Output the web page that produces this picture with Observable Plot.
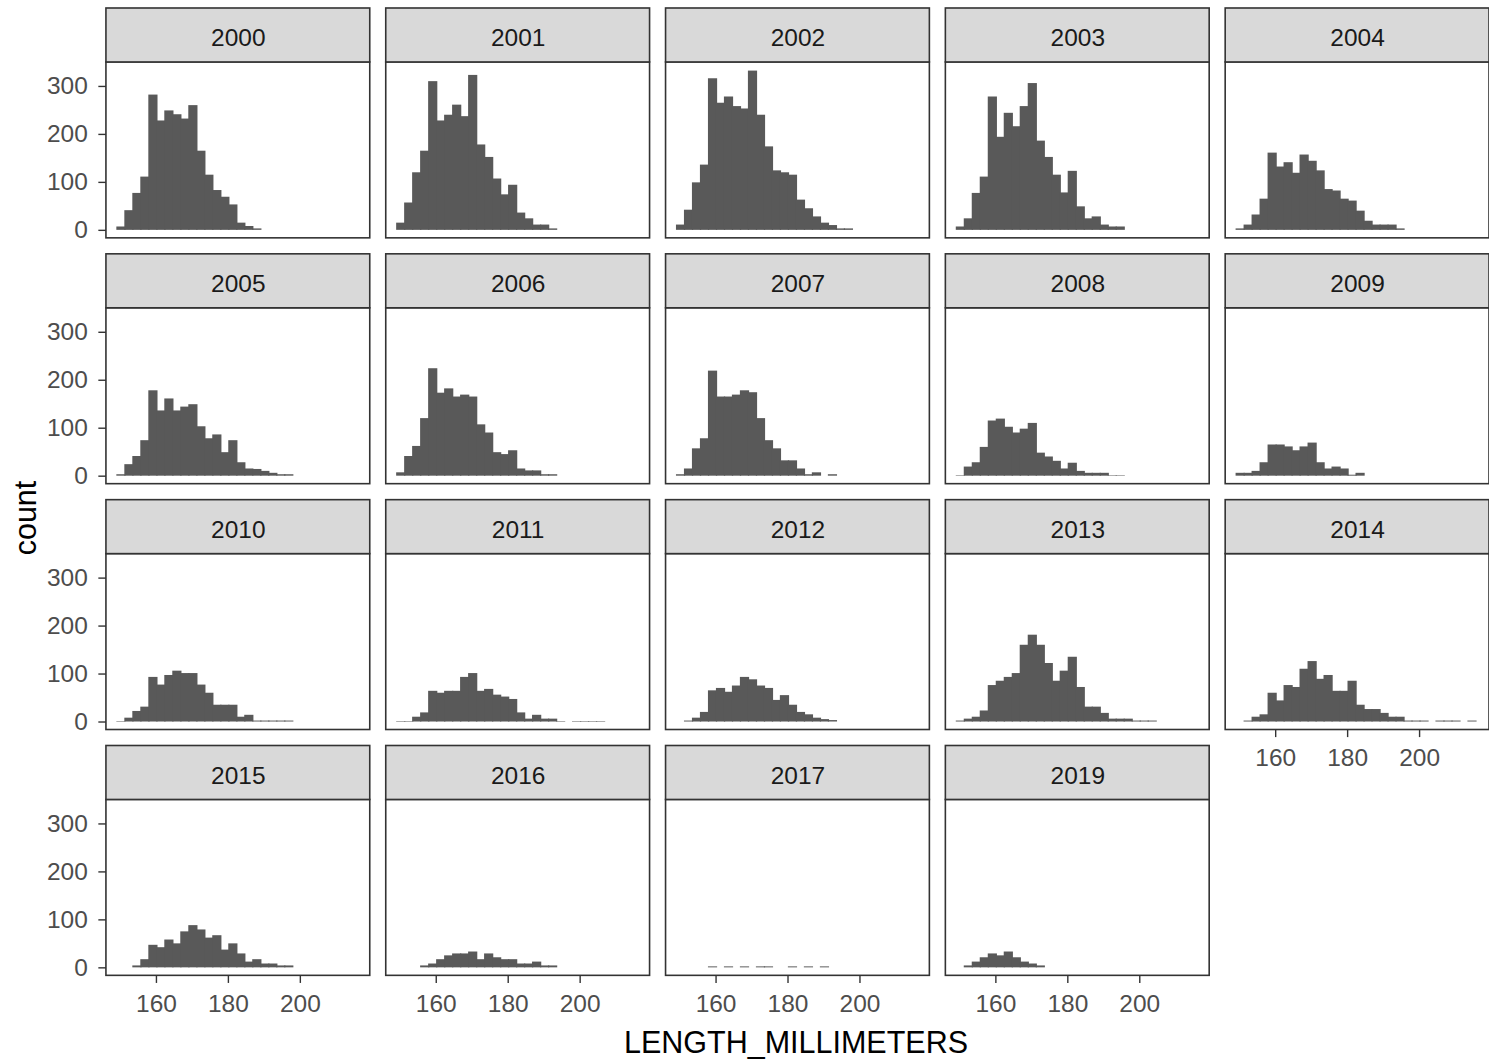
<!DOCTYPE html>
<html><head><meta charset="utf-8">
<script src="https://cdn.jsdelivr.net/npm/d3@7"></script>
<script src="https://cdn.jsdelivr.net/npm/@observablehq/plot@0.6"></script>
<style>
html,body{margin:0;padding:0;overflow:hidden;background:#fff;}
#wrap{position:relative;width:1489px;height:1062px;overflow:hidden;}
#wrap svg{position:absolute;left:0;top:0;}
.ttl{position:absolute;font-family:"Liberation Sans",Arial,sans-serif;color:#000;font-size:30.5px;white-space:nowrap;line-height:1;}
</style></head><body>
<div id="wrap"></div>
<script>
// ---- data ----
const years = [2000,2001,2002,2003,2004,2005,2006,2007,2008,2009,2010,2011,2012,2013,2014,2015,2016,2017,2019];
const binEdges = [149.16,151.38,153.60,155.82,158.05,160.27,162.49,164.71,166.93,169.16,171.38,173.60,175.82,178.04,180.27,182.49,184.71,186.93,189.16,191.38,193.60,195.82,198.04,200.27,202.49,204.71,206.93,209.16,211.38,213.60,215.82];
const xTicks = [160,180,200];
const yTicks = [0,100,200,300];

const c2000 = [7,41,77,111,282,228,249,241,232,260,165,115,83,69,53,15,8,3];
const c2001 = [15,57,120,165,310,228,240,261,237,323,178,152,107,74,94,36,24,11,11,3];
const c2002 = [11,42,99,136,316,265,278,258,253,332,240,174,124,120,115,63,45,28,15,10,3,3];
const c2003 = [7,24,77,111,278,194,244,216,258,306,186,152,115,78,123,49,24,28,11,7,7];
const c2004 = [3,11,32,65,161,132,141,119,157,144,124,85,82,65,61,40,19,11,11,11,3];
const c2005 = [3,24,41,74,178,136,161,136,144,149,103,78,86,49,74,28,15,14,10,6,3,3];
const c2006 = [7,41,62,120,224,173,182,165,169,165,107,90,49,45,53,15,11,11,3,3];
const c2007 = [3,15,57,78,219,165,165,169,178,174,120,74,57,32,32,15,3,7,0,3];
const c2008 = [1,19,28,60,115,119,102,90,98,110,48,40,31,15,27,10,6,6,6,1,1];
const c2009 = [6,6,10,28,65,65,61,53,61,69,28,15,19,15,2,6];
const c2010 = [1,8,22,31,93,77,97,106,101,101,77,60,35,35,35,10,14,2,2,2,2,2];
const c2011 = [1,1,10,19,64,60,64,64,93,101,64,68,56,52,47,19,6,14,6,6,1,0,1,1,1,1];
const c2012 = [0,2,8,20,65,70,62,75,93,88,75,70,45,55,35,20,15,8,5,3];
const c2013 = [2,6,10,23,76,85,93,101,160,181,160,122,85,106,135,72,31,31,18,6,6,6,2,2,2];
const c2014 = [0,2,10,15,60,44,76,72,110,126,89,97,64,64,85,35,26,26,18,10,10,2,2,2,0,2,2,2,0,2];
const c2015 = [0,0,4,17,47,42,58,50,75,88,79,62,67,37,50,29,12,17,8,8,4,4];
const c2016 = [0,0,0,4,8,17,25,29,29,33,17,29,21,17,17,8,8,12,4,4];
const c2017 = [0,0,0,0,2,0,2,0,2,0,2,2,0,0,2,0,2,0,2];
const c2019 = [0,4,12,21,29,25,33,21,12,8,4];
const countsByYear = [c2000,c2001,c2002,c2003,c2004,c2005,c2006,c2007,c2008,c2009,c2010,c2011,c2012,c2013,c2014,c2015,c2016,c2017,c2019];

// ---- layout constants ----
const NCOL = 5;
const xDom = [146.1, 219.433];
const yPanelTop = 350, yBottom = -16.667, yStripTop = 462.5;
const FONT = "'Liberation Sans', Arial, sans-serif";

const bars = [];
years.forEach((yr, i) => {
  countsByYear[i].forEach((c, j) => {
    if (c > 0) bars.push({year: yr, col: i % NCOL, row: Math.floor(i / NCOL), x1: binEdges[j], x2: binEdges[j + 1], count: c});
  });
});
const panels = years.map((yr, i) => ({year: yr, col: i % NCOL, row: Math.floor(i / NCOL)}));

const chart = Plot.plot({
  width: 1490, height: 1062,
  marginLeft: 106, marginRight: 0, marginTop: 8, marginBottom: 86,
  style: {fontFamily: FONT, background: "white", overflow: "visible"},
  x: {domain: xDom},
  y: {domain: [yBottom, yStripTop]},
  fx: {domain: [0,1,2,3,4], paddingInner: 16/280, paddingOuter: 0, axis: null},
  fy: {domain: [0,1,2,3], paddingInner: 16/246, paddingOuter: 0, axis: null},
  marks: [
    Plot.rectY(bars, {x1: "x1", x2: "x2", y: "count", fx: "col", fy: "row", fill: "#595959", insetLeft: -0.6, insetRight: -0.6}),
    Plot.rect(panels, {x1: xDom[0], x2: xDom[1], y1: yBottom, y2: yPanelTop, fx: "col", fy: "row", fill: "none", stroke: "#333333", strokeWidth: 1.6}),
    Plot.rect(panels, {x1: xDom[0], x2: xDom[1], y1: yPanelTop, y2: yStripTop, fx: "col", fy: "row", fill: "#d9d9d9", stroke: "#333333", strokeWidth: 1.6}),
    Plot.text(panels, {x: (xDom[0] + xDom[1]) / 2, y: (yPanelTop + yStripTop) / 2, dy: 3, text: d => String(d.year), fx: "col", fy: "row", fontSize: 24.5, fill: "#1a1a1a"}),
    Plot.axisX({ticks: xTicks, facetAnchor: "bottom-empty", tickSize: 7.6, tickPadding: 11, fontSize: 24.5, stroke: "#333333", fill: "#4d4d4d", label: null, strokeWidth: 1.4}),
    Plot.axisY({ticks: yTicks, facetAnchor: "left", tickSize: 7.6, tickPadding: 11, fontSize: 24.5, stroke: "#333333", fill: "#4d4d4d", label: null, strokeWidth: 1.4})
  ]
});
const wrap = document.getElementById("wrap");
wrap.appendChild(chart);

const xt = document.createElement("div");
xt.className = "ttl";
xt.textContent = "LENGTH_MILLIMETERS";
xt.style.left = "796px"; xt.style.top = "1042px";
xt.style.transform = "translate(-50%,-50%)";
wrap.appendChild(xt);

const yt = document.createElement("div");
yt.className = "ttl";
yt.textContent = "count";
yt.style.left = "25px"; yt.style.top = "518px";
yt.style.transform = "translate(-50%,-50%) rotate(-90deg)";
wrap.appendChild(yt);
</script>
</body></html>
